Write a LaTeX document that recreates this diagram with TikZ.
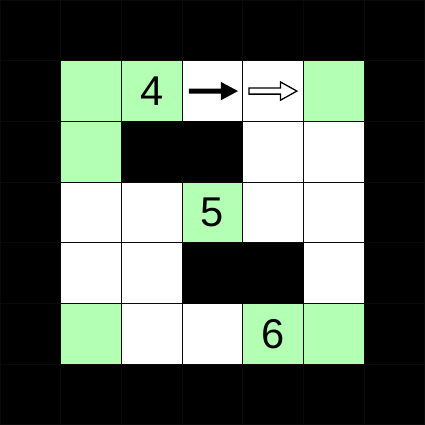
\documentclass[tikz,border=0pt]{standalone}
\usepackage{fontspec}
\setmainfont{Liberation Sans}
\definecolor{cellgreen}{HTML}{B3FFB3}
\definecolor{gridline}{HTML}{0A0A0A}
\tikzset{
  green cell/.style={fill=cellgreen},
  wall cell/.style={fill=black},
  num/.style={font=\fontsize{19.5}{20}\selectfont, inner sep=0pt},
  gridlines/.style={draw=gridline, line width=0.5pt},
}
\begin{document}
\begin{tikzpicture}[x=1cm,y=-1cm]
\useasboundingbox (0,0) rectangle (7,7);
\fill[black] (0,0) rectangle (7,7);
\fill[white] (1,1) rectangle (6,6);
% green cells (col,row)
\foreach \c/\r in {1/1,2/1,5/1,1/2,3/3,1/5,4/5,5/5}
  \fill[green cell] (\c,\r) rectangle ++(1,1);
% grid
\draw[gridlines] (0,0) grid (7,7);
% wall cells
\foreach \c/\r in {2/2,3/2,3/4,4/4}
  \fill[wall cell] (\c,\r) rectangle ++(1,1);
% numbers
\node[num] (n4) at (2.5,1.5) {4};
\node[num] (n5) at (3.5,3.5) {5};
\node[num] (n6) at (4.5,5.5) {6};
% solid arrow
\fill[black] (3.11,1.46) -- (3.64,1.46) -- (3.64,1.35) -- (3.92,1.5) -- (3.64,1.65) -- (3.64,1.54) -- (3.11,1.54) -- cycle;
% hollow arrow
\draw[black, fill=white, line width=0.6pt] (4.10,1.45) -- (4.62,1.45) -- (4.62,1.35) -- (4.89,1.5) -- (4.62,1.65) -- (4.62,1.55) -- (4.10,1.55) -- cycle;
\end{tikzpicture}
\end{document}
